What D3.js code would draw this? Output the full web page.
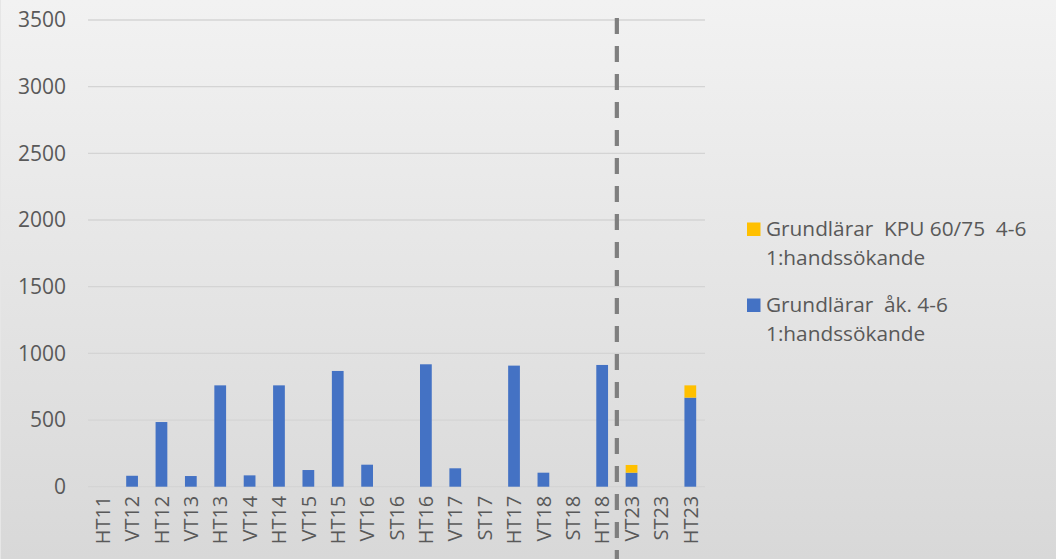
<!DOCTYPE html>
<html><head><meta charset="utf-8">
<script src="https://cdn.jsdelivr.net/npm/d3@7/dist/d3.min.js"></script>
<style>html,body{margin:0;padding:0;overflow:hidden;background:#fff}</style>
</head><body>
<svg id="chart" width="1056" height="559"></svg>
<script>
const categories = ["HT11","VT12","HT12","VT13","HT13","VT14","HT14","VT15","HT15","VT16","ST16","HT16","VT17","ST17","HT17","VT18","ST18","HT18","VT23","ST23","HT23"];
const grundlarar = [0,82,485,80,760,85,760,125,868,165,0,918,138,0,908,105,0,913,105,0,668];
const kpu = [0,0,0,0,0,0,0,0,0,0,0,0,0,0,0,0,0,0,58,0,92];
const yTicks = [0,500,1000,1500,2000,2500,3000,3500];
const seriesNames = ["Grundlärar  åk. 4-6", "Grundlärar  KPU 60/75  4-6"];
const seriesColors = ["#4472C4", "#FFC000"];
const dividerAfter = "HT18";

(function(){
const svg = d3.select("#chart");
const W = 1056, H = 559;
const defs = svg.append("defs");
const grad = defs.append("linearGradient").attr("id","bg").attr("x1",0).attr("y1",0).attr("x2",0).attr("y2",1);
grad.append("stop").attr("offset","0%").attr("stop-color","#f2f2f2");
grad.append("stop").attr("offset","100%").attr("stop-color","#d8d8d8");
svg.append("rect").attr("width",W).attr("height",H).attr("fill","url(#bg)");
svg.append("line").attr("x1",0.5).attr("x2",0.5).attr("y1",0).attr("y2",H).attr("stroke","#e6e6e6").attr("stroke-width",1);

const mLeft = 88, mRight = 705, mTop = 20, mBottom = 486.7;
const x = d3.scaleBand().domain(categories).range([mLeft,mRight]).paddingInner(0.6).paddingOuter(0.3);
const y = d3.scaleLinear().domain([0,3500]).range([mBottom,mTop]);

svg.append("g").selectAll("line").data(yTicks).join("line")
  .attr("x1",mLeft).attr("x2",mRight)
  .attr("y1",d=>y(d)).attr("y2",d=>y(d))
  .attr("stroke","#d4d4d4").attr("stroke-width",1.3);

const yAxis = svg.append("g").attr("transform",`translate(${mLeft},0)`)
  .call(d3.axisLeft(y).tickValues(yTicks).tickSize(0).tickPadding(22).tickFormat(d3.format("d")));
yAxis.select(".domain").remove();
yAxis.selectAll("text").attr("font-family","'Open Sans', sans-serif").attr("font-size",21).attr("fill","#595959");

const data = categories.map((c,i)=>({cat:c, a:grundlarar[i], b:kpu[i]}));
const stack = d3.stack().keys(["a","b"])(data);
svg.append("g").selectAll("g").data(stack).join("g")
  .attr("fill",(d,i)=>seriesColors[i])
  .selectAll("rect").data(d=>d.filter(s=>s[1]-s[0]>0)).join("rect")
  .attr("x",d=>x(d.data.cat))
  .attr("width",x.bandwidth())
  .attr("y",d=>y(d[1]))
  .attr("height",d=>y(d[0])-y(d[1]));

const xAxis = svg.append("g").attr("transform",`translate(0,${mBottom})`)
  .call(d3.axisBottom(x).tickSize(0).tickPadding(0));
xAxis.select(".domain").remove();
xAxis.selectAll("text")
  .attr("font-family","'Open Sans', sans-serif").attr("font-size",20).attr("fill","#595959")
  .attr("transform","rotate(-90)")
  .attr("text-anchor","end")
  .attr("x",-9).attr("y",0).attr("dy","0.36em");

const i18 = categories.indexOf(dividerAfter);
const divX = x(categories[i18]) + x.bandwidth() + (x.step()-x.bandwidth())/2;
svg.append("line").attr("x1",divX).attr("x2",divX).attr("y1",18).attr("y2",H)
  .attr("stroke","#7f7f7f").attr("stroke-width",4.2).attr("stroke-dasharray","16,12");

const legendItems = [
  {color:seriesColors[1], lines:[seriesNames[1],"1:handssökande"], y:236},
  {color:seriesColors[0], lines:[seriesNames[0],"1:handssökande"], y:312}
];
const lg = svg.append("g");
legendItems.forEach(it=>{
  lg.append("rect").attr("x",747).attr("y",it.y-13.5).attr("width",13.5).attr("height",13.5).attr("fill",it.color);
  const t = lg.append("text").attr("font-family","'Open Sans', sans-serif").attr("font-size",20.8).attr("fill","#595959").attr("xml:space","preserve");
  it.lines.forEach((l,k)=>{
    t.append("tspan").attr("x",766).attr("y",it.y+k*29).text(l);
  });
});
})();
</script>
</body></html>
